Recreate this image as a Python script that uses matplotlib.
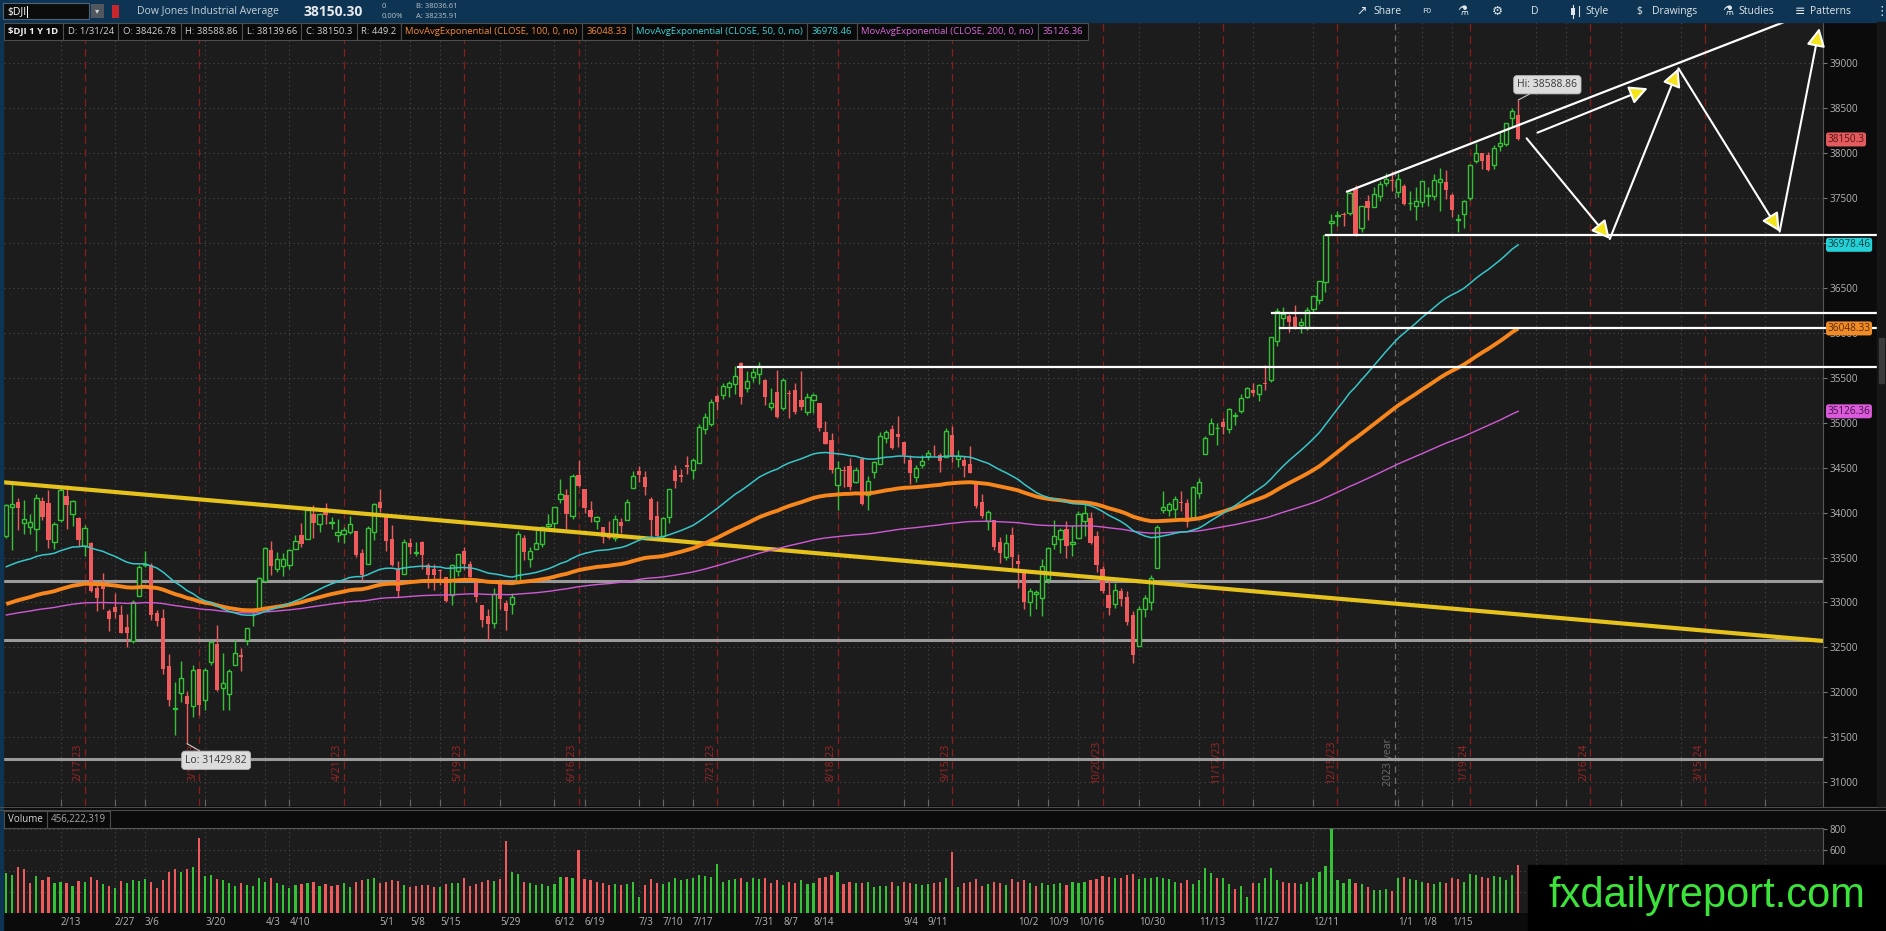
import numpy as np
import pandas as pd
import matplotlib
matplotlib.use("Agg")
import matplotlib.pyplot as plt
import matplotlib.transforms as mtransforms
from matplotlib.patches import Rectangle

# ---------------- data ($DJI, 1Y daily, 1/31/23 .. 1/31/24) ----------------
opens = [33744,
    34067, 34120, 33880, 33845, 33822, 34128, 34105, 33671, 33912, 34183, 33982, 33941, 33632, 33667, 33161, 33189, 32908, 32950, 32857,
    32722, 32568, 33074, 33417, 33415, 32880, 32822, 32289, 31819, 31996, 31958, 31853, 32264, 31914, 32339, 32539, 32051, 31983, 32299, 32420, 32583, 32857, 32923,
    33234, 33587, 33376, 33408, 33418, 33596, 33748, 33710, 33983, 33875, 34056, 33880, 33753, 33758, 33788, 33796, 33546, 33429, 33785,
    34123, 33974, 33701, 33370, 33320, 33666, 33546, 33668, 33417, 33370, 33365, 33281, 33079, 33353, 33574, 33432, 33219, 32976, 32848, 32771, 33219, 32996,
    32980, 33220, 33718, 33489, 33597, 33645, 33854, 33889, 34149, 34191, 33967, 34423, 34260, 34030, 33901, 33839, 33720, 33719, 33895, 33916, 34271,
    34461, 34393, 34152, 33958, 33740, 33954, 34469, 34418, 34531, 34470, 34547, 34928, 34987, 35297, 35311, 35401, 35432, 35667, 35384, 35506,
    35536, 35472, 35172, 35338, 35159, 35325, 35360, 35249, 35115, 35249, 35224, 34892, 34802, 34305, 34476, 34523, 34342, 34593, 34190, 34451, 34545, 34831, 34930,
    34877, 34789, 34587, 34401, 34531, 34624, 34657, 34638, 34616, 34868, 34596, 34589, 34544, 34314, 34117, 33907, 33920, 33673, 33506, 33755,
    33465, 33366, 33000, 33096, 33052, 33261, 33654, 33707, 33815, 33650, 33721, 33902, 33939, 33741, 33373, 33088, 32987, 33123, 33059, 32858, 32513, 32929,
    33000, 33384, 34029, 34032, 34045, 34116, 34105, 33942, 34217, 34650, 34872, 34937, 35002, 34926, 35074, 35131, 35282, 35362, 35324, 35435, 35474,
    35903, 36165, 36183, 36171, 36088, 36048, 36261, 36366, 36567, 37220, 37297, 37321, 37336, 37600, 37160, 37461, 37404, 37518, 37661, 37701,
    37566, 37632, 37440, 37413, 37459, 37524, 37516, 37678, 37677, 37532, 37259, 37318, 37502, 37906, 37997, 37974, 37870, 38073, 38099, 38384, 38426.78]

highs = [34093,
    34334, 34166, 34141, 33986, 34205, 34178, 34252, 33897, 34291, 34309, 34140, 33956, 33864, 33670, 33217, 33324, 32932, 33104, 32976,
    32874, 33031, 33421, 33573, 33439, 32917, 32923, 32427, 32110, 32353, 32018, 32307, 32264, 32274, 32568, 32752, 32434, 32261, 32581, 32488, 32721, 32935, 33284,
    33618, 33681, 33565, 33548, 33598, 33755, 33885, 34035, 34082, 33988, 34111, 33946, 33926, 33838, 33965, 33797, 33598, 33850, 34104,
    34257, 33974, 33862, 33462, 33704, 33718, 33673, 33680, 33444, 33423, 33372, 33282, 33423, 33544, 33613, 33464, 33250, 32976, 32923, 33166, 33247, 33032,
    33104, 33800, 33746, 33613, 33834, 33850, 33987, 34066, 34368, 34259, 34431, 34588, 34260, 34130, 33959, 33839, 33907, 33978, 33941, 34147, 34465,
    34522, 34466, 34168, 34134, 33953, 34263, 34533, 34489, 34630, 34611, 34984, 35110, 35262, 35315, 35437, 35462, 35631, 35679, 35575, 35609,
    35679, 35481, 35381, 35581, 35497, 35364, 35443, 35580, 35331, 35330, 35224, 35023, 34882, 34572, 34523, 34603, 34502, 34621, 34410, 34570, 34900, 34914, 34972,
    35070, 34790, 34636, 34530, 34638, 34695, 34749, 34663, 34946, 34963, 34696, 34625, 34743, 34314, 34202, 34025, 33920, 33725, 33765, 33836,
    33534, 33377, 33157, 33138, 33486, 33620, 33920, 33831, 33901, 33858, 34015, 34131, 34002, 33794, 33409, 33262, 33217, 33166, 33124, 32909, 32965, 33081,
    33310, 33857, 34238, 34122, 34180, 34241, 34149, 34294, 34387, 34855, 35056, 34994, 35057, 35164, 35120, 35317, 35394, 35439, 35434, 35644, 35953,
    36277, 36282, 36211, 36309, 36160, 36285, 36414, 36579, 37090, 37325, 37355, 37347, 37571, 37641, 37411, 37536, 37617, 37683, 37778, 37801,
    37777, 37660, 37582, 37617, 37683, 37625, 37767, 37828, 37816, 37559, 37319, 37480, 37881, 38109, 38000, 38012, 38084, 38232, 38338, 38502, 38588.86]

lows = [33716,
    33583, 33805, 33763, 33757, 33575, 33912, 33608, 33599, 33900, 33812, 33856, 33629, 33512, 33118, 32903, 32924, 32678, 32825, 32655,
    32500, 32544, 33074, 33394, 32802, 32734, 32204, 31851, 31531, 31892, 31429.82, 31723, 31743, 31806, 32306, 32016, 31805, 31806, 32299, 32234, 32532, 32734, 32923,
    33234, 33302, 33341, 33298, 33368, 33596, 33614, 33710, 33717, 33786, 33873, 33816, 33674, 33662, 33763, 33508, 33248, 33429, 33698,
    34005, 33570, 33402, 33060, 33320, 33534, 33519, 33369, 33158, 33134, 33195, 33002, 32973, 33298, 33358, 33263, 33002, 32731, 32586, 32711, 32924, 32695,
    32873, 33220, 33471, 33398, 33591, 33615, 33813, 33784, 34112, 33814, 33923, 34288, 33996, 33891, 33812, 33663, 33704, 33684, 33769, 33916, 34271,
    34339, 34196, 33706, 33719, 33688, 33888, 34269, 34336, 34433, 34373, 34547, 34869, 34966, 35138, 35265, 35282, 35321, 35207, 35342, 35453,
    35434, 35202, 35136, 35050, 35136, 35056, 35099, 35146, 35089, 35109, 34909, 34759, 34440, 34030, 34282, 34253, 34330, 34083, 34029, 34389, 34544, 34779, 34712,
    34729, 34554, 34315, 34336, 34496, 34590, 34626, 34446, 34616, 34563, 34502, 34397, 34440, 34052, 33935, 33811, 33583, 33438, 33474, 33386,
    33165, 32930, 32846, 32925, 32848, 33222, 33598, 33546, 33496, 33522, 33712, 33736, 33645, 33342, 33107, 32860, 32939, 32958, 32744, 32327, 32513, 32836,
    32912, 33383, 34000, 33963, 33941, 34012, 33844, 33932, 34165, 34650, 34871, 34757, 34874, 34880, 34972, 35106, 35270, 35297, 35237, 35367, 35450,
    35858, 36078, 36008, 36040, 36000, 36036, 36218, 36321, 36459, 37088, 37185, 37183, 37305, 37076, 37126, 37253, 37395, 37468, 37634, 37579,
    37505, 37416, 37366, 37260, 37397, 37408, 37476, 37350, 37492, 37286, 37123, 37169, 37477, 37893, 37824, 37796, 37826, 38020, 38080, 38291, 38139.66]

closes = [34086,
    34093, 34054, 33926, 33891, 34157, 33949, 33700, 33869, 34246, 34089, 34128, 33697, 33827, 33130, 33045, 33154, 32817, 32889, 32657,
    32662, 33004, 33391, 33432, 32857, 32799, 32255, 31910, 31820, 32155, 31875, 32247, 31862, 32245, 32561, 32031, 32106, 32238, 32433, 32395, 32718, 32860, 33274,
    33601, 33403, 33483, 33486, 33587, 33685, 33647, 34030, 33887, 33988, 33977, 33897, 33787, 33809, 33876, 33531, 33302, 33827, 34098,
    34051, 33684, 33414, 33128, 33674, 33619, 33562, 33531, 33309, 33301, 33349, 33013, 33421, 33536, 33427, 33287, 33056, 32800, 32765, 33093, 33043, 32908,
    33061, 33763, 33563, 33573, 33665, 33834, 33877, 34066, 34212, 33979, 34408, 34299, 34054, 33952, 33947, 33727, 33714, 33927, 33853, 34122, 34408,
    34418, 34288, 33922, 33734, 33944, 34262, 34347, 34395, 34509, 34586, 34952, 35061, 35225, 35228, 35411, 35438, 35520, 35282, 35459, 35560,
    35630, 35283, 35215, 35066, 35473, 35315, 35123, 35176, 35281, 35308, 34946, 34766, 34475, 34501, 34464, 34289, 34473, 34099, 34347, 34560, 34852, 34891, 34722,
    34838, 34642, 34443, 34501, 34577, 34664, 34646, 34576, 34907, 34618, 34625, 34518, 34441, 34070, 33964, 34007, 33619, 33551, 33667, 33508,
    33433, 33002, 33130, 33120, 33408, 33605, 33740, 33804, 33631, 33670, 33985, 33998, 33665, 33415, 33127, 32937, 33141, 33036, 32785, 32418, 32929, 33053,
    33275, 33840, 34061, 34096, 34153, 34112, 33892, 34283, 34338, 34828, 34991, 34946, 34948, 35151, 35088, 35273, 35390, 35333, 35417, 35430, 35951,
    36246, 36204, 36125, 36055, 36117, 36248, 36405, 36578, 37090, 37248, 37306, 37307, 37558, 37083, 37405, 37386, 37545, 37657, 37710, 37690,
    37715, 37430, 37440, 37466, 37683, 37525, 37695, 37711, 37593, 37361, 37267, 37469, 37864, 38001, 37906, 37806, 38050, 38109, 38333, 38467, 38150.3]

# volume in millions of shares
volumes = [380,
    362, 441, 419, 289, 352, 314, 340, 289, 298, 283, 257, 305, 295, 340, 314, 273, 257, 241, 305,
    289, 314, 305, 324, 298, 241, 314, 394, 419, 394, 419, 441, 717, 352, 362, 324, 314, 289, 257, 283, 270, 260, 330,
    300, 330, 290, 270, 240, 265, 280, 285, 300, 255, 275, 260, 270, 290, 250, 300, 310, 320, 335,
    285, 300, 310, 305, 270, 250, 255, 265, 270, 245, 250, 275, 290, 285, 330, 260, 275, 300, 310, 305, 320, 688,
    394, 370, 300, 290, 270, 280, 260, 280, 340, 345, 330, 600, 325, 310, 300, 290, 270, 275, 265, 280, 300,
    156, 270, 320, 290, 280, 300, 330, 310, 320, 335, 360, 350, 340, 467, 300, 310, 320, 330, 300, 330,
    320, 330, 290, 310, 270, 300, 290, 310, 280, 285, 330, 340, 360, 390, 280, 300, 290, 290, 300, 250, 260, 255, 300,
    260, 300, 290, 280, 270, 275, 290, 300, 330, 584, 250, 283, 298, 324, 255, 280, 300, 285, 270, 320,
    300, 310, 290, 260, 290, 270, 280, 290, 270, 300, 290, 300, 310, 320, 350, 340, 330, 330, 360, 370, 320, 330,
    330, 340, 330, 320, 300, 290, 310, 280, 310, 425, 380, 330, 330, 280, 230, 260, 150, 290, 290, 330, 428,
    314, 300, 290, 285, 280, 300, 330, 394, 448, 803, 310, 290, 320, 290, 280, 250, 220, 215, 225, 210,
    330, 340, 320, 310, 300, 290, 280, 300, 290, 330, 320, 300, 370, 360, 340, 330, 350, 340, 310, 360, 456]

# NYSE holidays inside the window
holidays = ['2023-02-20', '2023-04-07', '2023-05-29', '2023-06-19', '2023-07-04', '2023-09-04',
            '2023-11-23', '2023-12-25', '2024-01-01', '2024-01-15', '2024-02-19', '2024-03-29']

# moving average values at the left edge of the chart (start of the window)
ema_start = {50: 33398, 100: 32983, 200: 32861}
ema_last = {50: '36978.46', 100: '36048.33', 200: '35126.36'}

# option expiration days (red dashed lines)
expiries = ['2023-02-17', '2023-03-17', '2023-04-21', '2023-05-19', '2023-06-16', '2023-07-21',
            '2023-08-18', '2023-09-15', '2023-10-20', '2023-11-17', '2023-12-15', '2024-01-19',
            '2024-02-16', '2024-03-15']

week_labels = ['2023-02-13', '2023-02-27', '2023-03-06', '2023-03-20', '2023-04-03', '2023-04-10',
               '2023-05-01', '2023-05-08', '2023-05-15', '2023-05-29', '2023-06-12', '2023-06-19',
               '2023-07-03', '2023-07-10', '2023-07-17', '2023-07-31', '2023-08-07', '2023-08-14',
               '2023-09-04', '2023-09-11', '2023-10-02', '2023-10-09', '2023-10-16', '2023-10-30',
               '2023-11-13', '2023-11-27', '2023-12-11', '2024-01-01', '2024-01-08', '2024-01-15']
# weekly grid lines in the empty future area (no labels shown there)
future_weeks = ['2024-02-05', '2024-02-12', '2024-02-26', '2024-03-11', '2024-04-01']

# drawn studies: support lines, trend lines, projected path (index, price)
gray_levels = [33240, 32584, 31260]
trend_yellow = [(-1.0, 34340), (301.6, 32572)]
white_levels = [(219.1, 37091), (210.2, 36217), (211.4, 36057), (121.4, 35623)]
wedge_top = [(222.6, 37570), (299.5, 39570)]
small_arrow = [(254.2, 38226), (272.5, 38720)]
zigzag = [(252.4, 38163), (266.2, 37043), (277.6, 38942), (294.4, 37125), (301.0, 39390)]

header_cells = [('$DJI 1 Y 1D', '#f2f2f2', True), ('D: 1/31/24', '#cfcfcf', False),
                ('O: 38426.78', '#cfcfcf', False), ('H: 38588.86', '#cfcfcf', False),
                ('L: 38139.66', '#cfcfcf', False), ('C: 38150.3', '#cfcfcf', False),
                ('R: 449.2', '#cfcfcf', False),
                ('MovAvgExponential (CLOSE, 100, 0, no)', '#f0893a', False), ('36048.33', '#f0893a', False),
                ('MovAvgExponential (CLOSE, 50, 0, no)', '#3fd0d4', False), ('36978.46', '#3fd0d4', False),
                ('MovAvgExponential (CLOSE, 200, 0, no)', '#d868d8', False), ('35126.36', '#d868d8', False)]

assert len(opens) == len(highs) == len(lows) == len(closes) == len(volumes) == 252

# ---------------- setup ----------------
plt.rcParams['font.family'] = ['Open Sans', 'DejaVu Sans']

W, H = 1886, 931
AXR = 1823          # right price/volume axis line, in pixels
BG = '#1c1c1c'
GREEN = '#36c236'
RED = '#ef5a5c'
GRID = '#4a4a4a'

days = pd.bdate_range('2023-01-31', '2024-05-31')
days = days[~days.isin(pd.to_datetime(holidays))]


def pos(d):
    return int(days.searchsorted(pd.Timestamp(d)))


def ema(values, span, seed):
    a = 2.0 / (span + 1)
    out = []
    prev = seed
    for k, v in enumerate(values):
        if k:
            prev = prev + a * (v - prev)
        out.append(prev)
    return np.array(out)


o = np.array(opens, float)
h = np.array(highs, float)
l = np.array(lows, float)
c = np.array(closes, float)
v = np.array(volumes, float)
x = np.arange(len(c))


def frac(x0, y0, x1, y1):
    return [x0 / W, 1 - y1 / H, (x1 - x0) / W, (y1 - y0) / H]


fig = plt.figure(figsize=(W / 100, H / 100), dpi=100)
fig.patch.set_facecolor('#0b0b0b')

ax = fig.add_axes(frac(4, 22, AXR, 806))
axv = fig.add_axes(frac(4, 828, AXR, 913), sharex=ax)

# ---------------- price panel ----------------
ax.set_facecolor(BG)
ax.set_xlim(-0.38, (AXR - 6.3) / 6.0235)
ax.set_ylim(30736, 39457)
for s in ['top', 'left', 'bottom']:
    ax.spines[s].set_visible(False)
ax.spines['right'].set_color('#555555')
ax.yaxis.tick_right()
ax.set_yticks(np.arange(31000, 39001, 500))
ax.tick_params(axis='y', colors='#777777', labelcolor='#b4b4b4', length=3, width=0.8,
               labelsize=7.2, pad=1.5)
ax.tick_params(axis='x', direction='in', length=5, color='#666666', labelbottom=False)
ax.grid(True, color=GRID, ls=(0, (1, 3)), lw=0.8)
ax.set_axisbelow(True)

tick_pos = [pos(d) for d in week_labels + future_weeks]
axv.set_xticks(tick_pos)
axv.set_xticklabels([f'{pd.Timestamp(d).month}/{pd.Timestamp(d).day}' for d in week_labels]
                    + [''] * len(future_weeks), ha='left')

# expiration lines + rotated labels
xtr = ax.get_xaxis_transform()
for d in expiries:
    i = pos(d)
    ax.axvline(i, color='#8a1c1c', ls=(0, (6, 4)), lw=0.9, zorder=1)
    t = pd.Timestamp(d)
    ax.text(i - 0.15, 0.056, f'{t.month}/{t.day}/{t.strftime("%y")}', transform=xtr, rotation=90,
            ha='right', va='center', color='#a02626', fontsize=7.5, zorder=1)
year_x = pos('2024-01-01') - 0.5
ax.axvline(year_x, color='#6e6e6e', ls=(0, (5, 4)), lw=0.9, zorder=1)
ax.text(year_x - 0.2, 0.056, '2023 year', transform=xtr, rotation=90, ha='right', va='center',
        color='#6e6e6e', fontsize=7.5, zorder=1)

# support lines and trendlines
for p in gray_levels:
    ax.axhline(p, color='#9a9a9a', lw=2.2, zorder=2)
ax.plot([p[0] for p in trend_yellow], [p[1] for p in trend_yellow], color='#e6c21c', lw=3, zorder=5,
        solid_capstyle='butt')

# candles
up = c >= o
ax.vlines(x, l, h, colors=np.where(up, GREEN, RED), lw=1.0, zorder=3)
body_lo = np.minimum(o, c)
body_h = np.maximum(np.abs(c - o), 9)
ax.bar(x[up], body_h[up], bottom=body_lo[up], width=0.7, facecolor=BG, edgecolor=GREEN, lw=1.0, zorder=4)
ax.bar(x[~up], body_h[~up], bottom=body_lo[~up], width=0.7, color=RED, lw=0, zorder=4)

# moving averages
ema50 = ema(c, 50, ema_start[50])
ema100 = ema(c, 100, ema_start[100])
ema200 = ema(c, 200, ema_start[200])
ax.plot(x, ema200, color='#d05ad6', lw=1.0, zorder=6)
ax.plot(x, ema100, color='#f7861c', lw=2.8, zorder=6, solid_capstyle='butt')
ax.plot(x, ema50, color='#37c6ca', lw=1.1, zorder=6)

# white drawings
x_edge = (W - 6.3) / 6.0235
for start, p in white_levels:
    ax.plot([start, x_edge], [p, p], color='white', lw=1.6, zorder=7, clip_on=False)
ax.plot([p[0] for p in wedge_top], [p[1] for p in wedge_top], color='white', lw=1.6, zorder=7,
        clip_on=False)

arrow_kw = dict(arrowstyle='-|>,head_length=0.55,head_width=0.28', mutation_scale=20,
                ec='white', fc='#f4e41c', lw=1.5, shrinkA=0, shrinkB=0)
ax.annotate('', xy=small_arrow[1], xytext=small_arrow[0], arrowprops=arrow_kw, zorder=8)
for a, b in zip(zigzag[:-1], zigzag[1:]):
    ax.annotate('', xy=b, xytext=a, arrowprops=arrow_kw, zorder=8, annotation_clip=False)

# hi / lo callouts
box = dict(boxstyle='round,pad=0.35,rounding_size=0.3', fc='#dcdcdc', ec='#b8b8b8', lw=0.6)
hi_i = int(np.argmax(h))
lo_i = int(np.argmin(l))
ax.annotate(f'Hi: {h[hi_i]:.2f}', xy=(hi_i, h[hi_i]), xytext=(21, 11), textcoords='offset points',
            ha='center', va='center', fontsize=7.5, color='#3a3a3a', bbox=box, zorder=9,
            arrowprops=dict(arrowstyle='-', color='#c8c8c8', lw=0.8, shrinkA=0, shrinkB=0))
ax.annotate(f'Lo: {l[lo_i]:.2f}', xy=(lo_i, l[lo_i]), xytext=(21, -12), textcoords='offset points',
            ha='center', va='center', fontsize=7.5, color='#3a3a3a', bbox=box, zorder=9,
            arrowprops=dict(arrowstyle='-', color='#c8c8c8', lw=0.8, shrinkA=0, shrinkB=0))

# value bubbles on the price axis
ytr = mtransforms.blended_transform_factory(ax.transAxes, ax.transData)


def bubble(val, txt, fc, tc):
    ax.text(1.0025, val, txt, transform=ytr, ha='left', va='center', fontsize=7.2, color=tc, zorder=20,
            clip_on=False, bbox=dict(boxstyle='round,pad=0.15,rounding_size=0.25', fc=fc, ec='none'))


bubble(c[-1], f'{c[-1]:g}', '#e35b5d', '#5a1212')
bubble(float(ema_last[50]), ema_last[50], '#22d2d6', '#0d3d42')
bubble(float(ema_last[100]), ema_last[100], '#f08c28', '#5a2a00')
bubble(float(ema_last[200]), ema_last[200], '#d95bd9', '#4b0f4b')

# ---------------- volume panel ----------------
axv.set_facecolor(BG)
axv.set_ylim(0, 810)
vcol = [GREEN if k == 0 or c[k] >= c[k - 1] else RED for k in range(len(c))]
axv.bar(x, v, width=0.36, color=vcol, lw=0, zorder=3)
for s in ['left', 'bottom']:
    axv.spines[s].set_visible(False)
axv.spines['top'].set_color('#555555')
axv.spines['right'].set_color('#555555')
axv.yaxis.tick_right()
axv.set_yticks([200, 400, 600, 800])
axv.tick_params(axis='y', colors='#777777', labelcolor='#b4b4b4', length=3, width=0.8, labelsize=7, pad=1.5)
axv.tick_params(axis='x', length=0, labelsize=7, labelcolor='#b4b4b4', pad=3)
axv.grid(True, color=GRID, ls=(0, (1, 3)), lw=0.8)
axv.set_axisbelow(True)

# ---------------- window chrome ----------------
ui = fig.add_axes([0, 0, 1, 1])
ui.set_xlim(0, W)
ui.set_ylim(H, 0)
ui.axis('off')
ui.patch.set_alpha(0)
renderer = fig.canvas.get_renderer()

# toolbar
ui.add_patch(Rectangle((0, 0), W, 22, color='#0d3553', zorder=1))
ui.add_patch(Rectangle((0, 22), 3, H - 22, color='#0d3553', zorder=1))
ui.add_patch(Rectangle((3, 3), 86, 16, fc='#0c0c0c', ec='#4f6478', lw=0.8, zorder=2))
ui.text(7, 11.5, '$DJI', color='white', fontsize=7.5, va='center', zorder=3)
ui.plot([27, 27], [6, 17], color='white', lw=0.7, zorder=3)
ui.add_patch(Rectangle((91, 4), 13, 14, fc='#50575e', ec='none', zorder=2))
ui.text(97.5, 11.5, '\u25be', color='#cfd4d8', fontsize=6, ha='center', va='center', zorder=3)
ui.add_patch(Rectangle((112, 5), 7, 13, fc='#c8262b', ec='none', zorder=2))
ui.text(137, 11.5, 'Dow Jones Industrial Average', color='#c7d0d8', fontsize=7.5, va='center', zorder=3)
ui.text(304, 11.5, '38150.30', color='#e6e9ec', fontsize=10, fontweight='bold', va='center', zorder=3)
ui.text(382, 6.5, '0', color='#b9c2ca', fontsize=5.5, va='center', zorder=3)
ui.text(382, 16, '0.00%', color='#b9c2ca', fontsize=5.5, va='center', zorder=3)
ui.text(416, 6.5, 'B: 38036.61', color='#b9c2ca', fontsize=5.5, va='center', zorder=3)
ui.text(416, 16, 'A: 38235.91', color='#b9c2ca', fontsize=5.5, va='center', zorder=3)

tb = dict(color='#dfe5ea', fontsize=7.5, va='center', zorder=3)
ui.text(1356, 11.5, '\u2197', fontsize=9, color='#dfe5ea', va='center', zorder=3)
ui.text(1373, 11.5, 'Share', **tb)
ui.text(1422, 11.5, 'F0', color='#dfe5ea', fontsize=6, va='center', zorder=3)
ui.text(1457, 11.5, '\u2697', fontsize=9, color='#dfe5ea', va='center', zorder=3)
ui.text(1492, 11.5, '\u2699', fontsize=9, color='#dfe5ea', va='center', zorder=3)
ui.text(1531, 11.5, 'D', **tb)
# little candle icon in front of "Style"
ui.plot([1573, 1573], [5, 18], color='#dfe5ea', lw=0.8, zorder=3)
ui.add_patch(Rectangle((1571, 8), 4, 7, fc='#dfe5ea', ec='none', zorder=3))
ui.plot([1579, 1579], [6, 16], color='#dfe5ea', lw=0.8, zorder=3)
ui.text(1585, 11.5, 'Style', **tb)
ui.text(1636, 11.5, '$', **tb)
ui.text(1652, 11.5, 'Drawings', **tb)
ui.text(1722, 11.5, '\u2697', fontsize=9, color='#dfe5ea', va='center', zorder=3)
ui.text(1738, 11.5, 'Studies', **tb)
ui.text(1795, 11.5, '\u2261', fontsize=9, color='#dfe5ea', va='center', zorder=3)
ui.text(1810, 11.5, 'Patterns', **tb)
ui.text(1875, 11.5, '\u22ee', fontsize=9, color='#dfe5ea', va='center', zorder=3)

# header row of the price panel
hx = 4
for txt, col, bold in header_cells:
    t = ui.text(hx + 4.5, 31.5, txt, color=col, fontsize=6.8, fontweight='bold' if bold else 'normal',
                va='center', ha='left', zorder=4)
    wpx = t.get_window_extent(renderer).width
    ui.add_patch(Rectangle((hx, 23), wpx + 9, 17, fc='#0a0a0a', ec='#4d4d4d', lw=0.8, zorder=3))
    hx += wpx + 9

# separators and volume header
ui.plot([0, W], [807, 807], color='#4d4d4d', lw=0.8, zorder=2)
ui.plot([0, W], [810, 810], color='#4d4d4d', lw=0.8, zorder=2)
vx = 4
for txt, col in [('Volume', '#d6d6d6'), (f'{456222319:,}', '#a8a8a8')]:
    t = ui.text(vx + 4, 819.5, txt, color=col, fontsize=7, va='center', ha='left', zorder=4)
    wpx = t.get_window_extent(renderer).width
    ui.add_patch(Rectangle((vx, 811), wpx + 8, 17, fc='#0a0a0a', ec='#4d4d4d', lw=0.8, zorder=3))
    vx += wpx + 8

# right-edge scroll strip
ui.add_patch(Rectangle((1877, 22), 9, 784, color='#161616', zorder=2))
ui.add_patch(Rectangle((1879, 338), 5, 45, color='#3a3a3a', zorder=2))

# watermark
ui.add_patch(Rectangle((1528, 865), W - 1528, H - 865, color='black', zorder=5))
ui.text(1707, 896, 'fxdailyreport.com', color='#3be33b', fontsize=30, ha='center', va='center',
        family=['Liberation Sans', 'DejaVu Sans'], zorder=6)

fig.savefig('out.png', dpi=100, facecolor=fig.get_facecolor())
